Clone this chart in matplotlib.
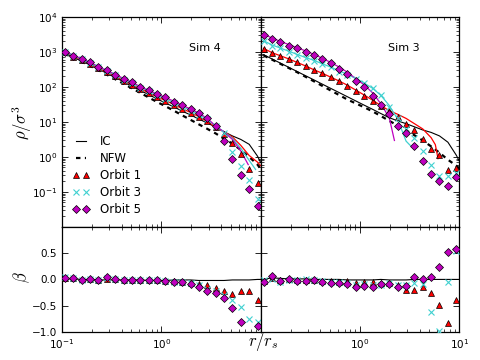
import numpy as np
import matplotlib
matplotlib.use("Agg")
import matplotlib.pyplot as plt
from matplotlib.ticker import LogLocator, NullFormatter
from matplotlib.lines import Line2D

# ---------------- data ----------------
r = [0.107, 0.130, 0.158, 0.192, 0.233, 0.283, 0.344, 0.417, 0.506, 0.615, 0.746, 0.906,
     1.10, 1.34, 1.62, 1.97, 2.39, 2.91, 3.53, 4.28, 5.20, 6.31, 7.67, 9.31]
r_line = r + [10.0]

# Sim 4 (left) log10(rho/sigma^3)
s4_ic = [2.96, 2.84, 2.74, 2.63, 2.51, 2.39, 2.27, 2.15, 2.02, 1.90, 1.78, 1.66, 1.54, 1.43,
         1.31, 1.20, 1.08, 0.97, 0.85, 0.72, 0.60, 0.50, 0.36, 0.02, -0.16]
s4_nfw = [2.95, 2.83, 2.72, 2.60, 2.48, 2.35, 2.22, 2.09, 1.96, 1.83, 1.70, 1.57, 1.45, 1.32,
          1.19, 1.06, 0.93, 0.80, 0.67, 0.52, 0.38, 0.20, 0.00, -0.22, -0.35]
s4_o1 = [3.00, 2.86, 2.77, 2.66, 2.54, 2.42, 2.30, 2.18, 2.06, 1.94, 1.82, 1.71, 1.60, 1.48,
         1.37, 1.26, 1.14, 1.02, 0.86, 0.66, 0.40, 0.07, -0.34, -0.74]
s4_o3 = [3.01, 2.88, 2.79, 2.68, 2.56, 2.45, 2.33, 2.21, 2.10, 1.98, 1.87, 1.76, 1.65, 1.54,
         1.43, 1.32, 1.20, 1.07, 0.88, 0.69, 0.15, -0.27, -0.67, -1.19]
s4_o5 = [3.01, 2.87, 2.80, 2.70, 2.57, 2.47, 2.35, 2.23, 2.13, 2.00, 1.90, 1.80, 1.70, 1.58,
         1.48, 1.37, 1.25, 1.11, 0.87, 0.45, -0.05, -0.53, -0.93, -1.41]
s4_m1_r = r + [10.0]
s4_m1 = [3.00, 2.87, 2.77, 2.66, 2.54, 2.42, 2.30, 2.18, 2.06, 1.95, 1.83, 1.72, 1.61, 1.50,
         1.38, 1.27, 1.15, 1.01, 0.85, 0.72, 0.57, 0.33, 0.04, -0.15, -0.25]
s4_m3_r = r[:23] + [8.9]
s4_m3 = [3.01, 2.89, 2.79, 2.68, 2.57, 2.46, 2.34, 2.22, 2.11, 1.99, 1.88, 1.77, 1.66, 1.55,
         1.44, 1.33, 1.21, 1.07, 0.88, 0.72, 0.53, 0.25, -0.10, -0.36]
s4_m5_r = r[:22] + [7.5]
s4_m5 = [3.03, 2.90, 2.81, 2.70, 2.58, 2.47, 2.36, 2.24, 2.13, 2.01, 1.90, 1.80, 1.70, 1.59,
         1.48, 1.37, 1.25, 1.10, 0.88, 0.71, 0.50, 0.17, -0.22]

# Sim 3 (right)
s3_ic = [2.92, 2.80, 2.68, 2.56, 2.44, 2.32, 2.20, 2.08, 1.96, 1.84, 1.72, 1.60, 1.48, 1.36,
         1.24, 1.12, 1.03, 0.95, 0.86, 0.77, 0.70, 0.60, 0.42, 0.05, -0.12]
s3_nfw = [2.90, 2.78, 2.66, 2.54, 2.42, 2.29, 2.16, 2.03, 1.90, 1.77, 1.64, 1.53, 1.42, 1.30,
          1.17, 1.03, 0.90, 0.76, 0.62, 0.47, 0.30, 0.12, -0.08, -0.25, -0.33]
s3_o1 = [3.09, 2.97, 2.88, 2.79, 2.70, 2.60, 2.48, 2.39, 2.28, 2.16, 2.04, 1.89, 1.75, 1.60,
         1.45, 1.30, 1.13, 0.94, 0.78, 0.50, 0.24, 0.05, -0.36, -0.33]
s3_o3 = [3.30, 3.17, 3.10, 3.01, 2.92, 2.82, 2.75, 2.65, 2.56, 2.44, 2.35, 2.23, 2.11, 1.96,
         1.78, 1.44, 1.10, 0.80, 0.53, 0.16, -0.22, -0.55, -0.54, -0.47]
s3_o5 = [3.49, 3.37, 3.28, 3.18, 3.11, 3.01, 2.92, 2.80, 2.68, 2.52, 2.38, 2.16, 1.99, 1.75,
         1.48, 1.23, 0.87, 0.69, 0.30, -0.11, -0.48, -0.69, -0.84, -0.57]
s3_m1_r = r[:21] + [5.73, 6.10]
s3_m1 = [3.10, 2.98, 2.89, 2.80, 2.70, 2.60, 2.49, 2.39, 2.28, 2.17, 2.05, 1.91, 1.77, 1.62,
         1.47, 1.32, 1.22, 1.10, 0.95, 0.80, 0.55, 0.35, -0.05]
s3_m3_r = r[:18] + [3.2]
s3_m3 = [3.32, 3.20, 3.11, 3.02, 2.93, 2.84, 2.76, 2.66, 2.57, 2.46, 2.36, 2.24, 2.11, 1.96,
         1.76, 1.47, 1.08, 0.45, 0.33]
s3_m5_r = r[:16] + [2.22]
s3_m5 = [3.50, 3.40, 3.30, 3.21, 3.12, 3.03, 2.93, 2.82, 2.70, 2.57, 2.42, 2.24, 2.06, 1.83,
         1.52, 1.12, 0.47]

# anisotropy beta
b4_ic = [0.01, 0.01, 0.00, 0.00, -0.01, -0.01, -0.01, -0.01, -0.01, -0.01, -0.02, -0.02, -0.02,
         -0.01, -0.01, -0.01, -0.02, -0.02, -0.02, -0.02, -0.01, -0.01, -0.01, 0.00, 0.00]
b4_o1 = [0.02, 0.02, 0.00, 0.00, -0.01, 0.01, 0.00, -0.01, -0.01, -0.02, -0.02, -0.02, -0.03,
         -0.03, -0.04, -0.06, -0.08, -0.11, -0.17, -0.22, -0.28, -0.22, -0.22, -0.39]
b4_o3 = [0.05, 0.02, -0.01, 0.00, -0.02, 0.02, 0.00, -0.01, -0.02, -0.02, -0.02, -0.02, -0.03,
         -0.04, -0.05, -0.07, -0.11, -0.18, -0.22, -0.30, -0.40, -0.53, -0.75, -0.82]
b4_o5 = [0.03, 0.03, -0.02, 0.00, -0.02, 0.04, 0.00, -0.01, -0.02, -0.02, -0.02, -0.02, -0.03,
         -0.04, -0.05, -0.08, -0.14, -0.22, -0.26, -0.36, -0.55, -0.81, -1.15, -0.89]

b3_ic = [0.00, 0.03, 0.02, 0.01, 0.01, 0.01, 0.00, 0.00, 0.00, 0.00, -0.01, -0.01, -0.01,
         -0.01, 0.00, -0.01, -0.01, -0.01, 0.00, 0.00, 0.00, 0.00, 0.00, 0.00, 0.00]
b3_o1 = [-0.03, 0.02, -0.01, 0.00, -0.01, -0.02, -0.02, -0.03, -0.03, -0.04, -0.03, -0.06, -0.04,
         -0.05, -0.06, -0.07, -0.10, -0.21, -0.21, -0.14, -0.25, -0.49, -0.83, -0.39]
b3_o3 = [-0.02, 0.01, -0.05, -0.02, -0.02, 0.01, -0.02, -0.03, -0.05, -0.05, -0.06, -0.10, -0.08,
         -0.10, -0.10, -0.07, -0.10, -0.10, -0.06, -0.09, -0.62, -0.98, -0.04, 0.55]
b3_o5 = [-0.04, 0.06, -0.03, 0.00, -0.03, -0.03, -0.02, -0.04, -0.06, -0.06, -0.09, -0.14, -0.13,
         -0.14, -0.08, -0.09, -0.14, -0.13, 0.05, 0.01, 0.04, 0.23, 0.52, 0.58]

sim_names = ["Sim 4", "Sim 3"]
legend_labels = ["IC", "NFW", "Orbit 1", "Orbit 3", "Orbit 5"]

# ---------------- style ----------------
plt.rcParams.update({
    "font.family": ["DejaVu Sans"],
    "font.size": 8,
    "xtick.direction": "in", "ytick.direction": "in",
    "xtick.top": True, "ytick.right": True,
    "xtick.major.size": 4, "ytick.major.size": 4,
    "xtick.minor.size": 2, "ytick.minor.size": 2,
    "xtick.major.width": 0.6, "ytick.major.width": 0.6,
    "xtick.minor.width": 0.5, "ytick.minor.width": 0.5,
    "axes.linewidth": 0.9,
    "xtick.labelsize": 7.5, "ytick.labelsize": 7.5,
})

RED = "#ff0000"
CYAN = "#40d0d0"
MAG = "#bf00bf"

fig = plt.figure(figsize=(4.8, 3.6), dpi=100)
gs = fig.add_gridspec(2, 2, left=0.129, right=0.957, top=0.953, bottom=0.078,
                      hspace=0, wspace=0, height_ratios=[2, 1])
axes = [[fig.add_subplot(gs[i, j]) for j in range(2)] for i in range(2)]

sims = [
    dict(ic=s4_ic, nfw=s4_nfw, o1=s4_o1, o3=s4_o3, o5=s4_o5,
         m1=(s4_m1_r, s4_m1), m3=(s4_m3_r, s4_m3), m5=(s4_m5_r, s4_m5),
         bic=b4_ic, b1=b4_o1, b3=b4_o3, b5=b4_o5),
    dict(ic=s3_ic, nfw=s3_nfw, o1=s3_o1, o3=s3_o3, o5=s3_o5,
         m1=(s3_m1_r, s3_m1), m3=(s3_m3_r, s3_m3), m5=(s3_m5_r, s3_m5),
         bic=b3_ic, b1=b3_o1, b3=b3_o3, b5=b3_o5),
]

p = lambda v: 10 ** np.asarray(v)

for j, s in enumerate(sims):
    ax = axes[0][j]
    ax.plot(r_line, p(s["ic"]), color="k", lw=0.8, zorder=2)
    ax.plot(r_line[:len(s["nfw"])], p(s["nfw"]), color="k", lw=1.6, dashes=(2, 2), zorder=2)
    ax.plot(s["m1"][0], p(s["m1"][1]), color=RED, lw=0.9, zorder=2)
    ax.plot(s["m3"][0], p(s["m3"][1]), color=CYAN, lw=0.9, zorder=2)
    ax.plot(s["m5"][0], p(s["m5"][1]), color=MAG, lw=0.9, zorder=2)
    ax.plot(r, p(s["o1"]), ls="none", marker="^", ms=4.5, mfc=RED, mec="k", mew=0.5, zorder=3)
    ax.plot(r, p(s["o3"]), ls="none", marker="x", ms=4.5, mec=CYAN, mew=0.8, zorder=4)
    ax.plot(r, p(s["o5"]), ls="none", marker="D", ms=4, mfc=MAG, mec="k", mew=0.5, zorder=5)
    ax.set_xscale("log"); ax.set_yscale("log")
    ax.set_xlim(0.1, 10); ax.set_ylim(1e-2, 1e4)
    ax.text(0.72, 0.85, sim_names[j], transform=ax.transAxes, ha="center", va="center",
            fontsize=8)

    bx = axes[1][j]
    bx.plot(r_line, s["bic"], color="k", lw=0.8, zorder=2)
    bx.plot(r, s["b1"], ls="none", marker="^", ms=4.5, mfc=RED, mec="k", mew=0.5, zorder=3)
    bx.plot(r, s["b3"], ls="none", marker="x", ms=4.5, mec=CYAN, mew=0.8, zorder=4)
    bx.plot(r, s["b5"], ls="none", marker="D", ms=4, mfc=MAG, mec="k", mew=0.5, zorder=5)
    bx.set_xscale("log")
    bx.set_xlim(0.1, 10); bx.set_ylim(-1, 1)

for row in axes:
    for ax in row:
        ax.xaxis.set_major_locator(LogLocator(base=10, numticks=10))
        ax.xaxis.set_minor_locator(LogLocator(base=10, subs=np.arange(2, 10), numticks=100))
        ax.xaxis.set_minor_formatter(NullFormatter())
for ax in axes[0]:
    ax.yaxis.set_major_locator(LogLocator(base=10, numticks=20))
    ax.yaxis.set_minor_locator(LogLocator(base=10, subs=np.arange(2, 10), numticks=100))
    ax.yaxis.set_minor_formatter(NullFormatter())
    ax.tick_params(labelbottom=False)

axes[0][1].tick_params(labelleft=False)
axes[1][1].tick_params(labelleft=False)

for bx in axes[1]:
    bx.set_yticks([-1.0, -0.5, 0.0, 0.5, 1.0])
axes[1][0].set_yticklabels(["\u22121.0", "\u22120.5", "0.0", "0.5", ""])

fig.canvas.draw()
# hide overlapping labels
for lab, loc in zip(axes[0][0].yaxis.get_majorticklabels(), axes[0][0].get_yticks()):
    if loc < 0.05:
        lab.set_visible(False)
for lab, loc in zip(axes[1][0].xaxis.get_majorticklabels(), axes[1][0].get_xticks()):
    if loc > 5:
        lab.set_visible(False)
for lab, loc in zip(axes[1][1].xaxis.get_majorticklabels(), axes[1][1].get_xticks()):
    if loc < 0.5:
        lab.set_visible(False)

handles = [
    Line2D([], [], color="k", lw=0.8),
    Line2D([], [], color="k", lw=1.6, dashes=(2, 2)),
    Line2D([], [], ls="none", marker="^", ms=4.5, mfc=RED, mec="k", mew=0.5),
    Line2D([], [], ls="none", marker="x", ms=4.5, mec=CYAN, mew=0.8),
    Line2D([], [], ls="none", marker="D", ms=4, mfc=MAG, mec="k", mew=0.5),
]
axes[0][0].legend(handles, legend_labels, loc="lower left", frameon=False, numpoints=2,
                  handlelength=1.4, handletextpad=0.9, labelspacing=0.35, fontsize=8.5)

fig.text(0.046, 0.66, r"$\rho/\sigma^3$", rotation=90, ha="center", va="center",
         fontsize=12, math_fontfamily="cm")
fig.text(0.046, 0.23, r"$\beta$", rotation=90, ha="center", va="center",
         fontsize=12, math_fontfamily="cm")
fig.text(0.548, 0.05, r"$r/r_s$", ha="center", va="center", fontsize=12,
         math_fontfamily="cm")

fig.savefig("out.png", dpi=100)
